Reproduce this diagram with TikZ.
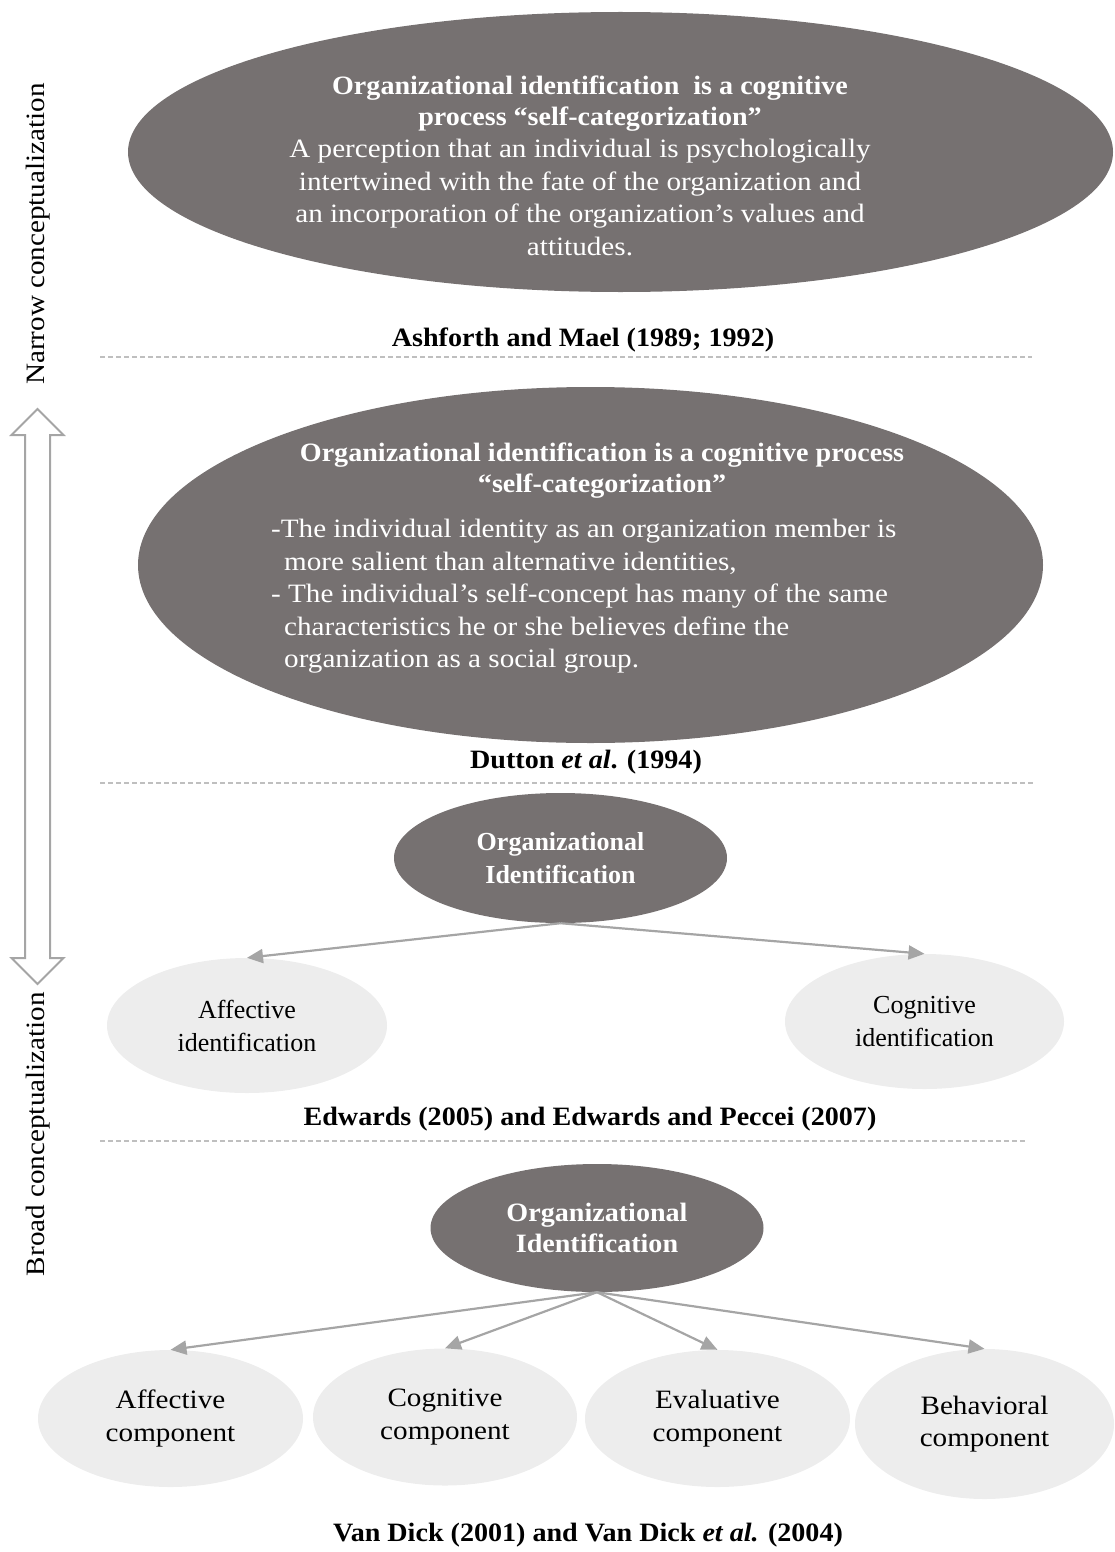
\documentclass[tikz,border=0pt]{standalone}
\usepackage{fontspec}
\setmainfont{Liberation Serif}
\newfontfamily\palfont{Liberation Serif}[FakeStretch=1.1]
\newfontfamily\palbfont{Liberation Serif}[FakeStretch=1.06]
\usetikzlibrary{shapes.geometric,arrows.meta}
\definecolor{darkfill}{HTML}{767171}
\definecolor{lightfill}{HTML}{EDEDED}
\definecolor{linkgray}{HTML}{A5A5A5}
\definecolor{rulegray}{HTML}{BFBFBF}

\begin{document}
\begin{tikzpicture}[x=1pt,y=-1pt,
  darkell/.style={ellipse, fill=darkfill, inner sep=0pt, text=white, align=center},
  lightell/.style={ellipse, fill=lightfill, inner sep=0pt, text=black, align=center},
  palreg/.style={font=\palfont\fontsize{26.5}{32.5}\selectfont},
  palbold/.style={font=\palbfont\bfseries\fontsize{26.5}{31}\selectfont},
  tmsreg/.style={font=\fontsize{26}{33}\selectfont},
  tmsbold/.style={font=\bfseries\fontsize{26}{33}\selectfont},
  link/.style={draw=linkgray, line width=2.2pt, -{Triangle[length=16pt,width=14pt]}},
  sepline/.style={draw=rulegray, line width=1.4pt, dash pattern=on 5pt off 3pt},
  source/.style={palbold, anchor=base, inner sep=0pt},
  bodytext/.style={palreg, text=white, inner sep=0pt},
  headtext/.style={palbold, text=white, inner sep=0pt, align=center, anchor=north},
]
\useasboundingbox (0,0) rectangle (1114,1552);

% ---- left scale: narrow <-> broad ----
\draw[linkgray, line width=2pt, fill=white, line join=miter]
  (37.5,409) -- (63.5,435) -- (50,435) -- (50,958) -- (63.5,958) -- (37.5,984)
  -- (11.5,958) -- (25,958) -- (25,435) -- (11.5,435) -- cycle;
\node[palreg, rotate=90] (narrow) at (38,234) {Narrow conceptualization};
\node[palreg, rotate=90] (broad) at (38,1134) {Broad conceptualization};

% ---- Ashforth and Mael ----
\node[darkell, minimum width=985, minimum height=280] (e1) at (620.5,152) {};
\node[headtext] (e1head) at (590,76)
  {Organizational identification\ \ is a cognitive\\process “self-categorization”};
\node[bodytext, align=center, anchor=north] (e1body) at (580,139)
  {A perception that an individual is psychologically\\
   intertwined with the fate of the organization and\\
   an incorporation of the organization’s values and\\
   attitudes.};
\node[source] (r1) at (583,346) {Ashforth and Mael (1989; 1992)};
\draw[sepline] (100,357) -- (1032,357);

% ---- Dutton et al. ----
\node[darkell, minimum width=905, minimum height=356] (e2) at (590.5,565) {};
\node[headtext] (e2head) at (602,443)
  {Organizational identification is a cognitive process\\“self-categorization”};
\node[bodytext, align=left, anchor=north west] (e2body) at (271,519)
  {-The individual identity as an organization member is\\
   \hspace*{13pt}more salient than alternative identities,\\
   - The individual’s self-concept has many of the same\\
   \hspace*{13pt}characteristics he or she believes define the\\
   \hspace*{13pt}organization as a social group.};
\node[source] (r2) at (586,768) {Dutton \textit{et al}. (1994)};
\draw[sepline] (100,783) -- (1035,783);

% ---- Edwards; Edwards and Peccei ----
\node[darkell, tmsbold, minimum width=333, minimum height=130] (e3) at (560.5,858)
  {Organizational\\Identification};
\node[lightell, tmsreg, minimum width=280, minimum height=135] (ai) at (247,1025.5)
  {Affective\\identification};
\node[lightell, tmsreg, minimum width=279, minimum height=135] (ci) at (924.5,1021.5)
  {Cognitive\\identification};
\draw[link] (e3.south) -- (ai.north);
\draw[link] (e3.south) -- (ci.north);
\node[source] (r3) at (590,1125) {Edwards (2005) and Edwards and Peccei (2007)};
\draw[sepline] (100,1141) -- (1027,1141);

% ---- Van Dick; Van Dick et al. ----
\node[darkell, palbold, minimum width=333, minimum height=128] (e4) at (597,1228)
  {Organizational\\Identification};
\node[lightell, palreg, minimum width=265, minimum height=137] (ac) at (170.5,1418.5)
  {Affective\\component};
\node[lightell, palreg, minimum width=264, minimum height=137] (cc) at (445,1417)
  {Cognitive\\component};
\node[lightell, palreg, minimum width=265, minimum height=137] (ec) at (717.5,1418.5)
  {Evaluative\\component};
\node[lightell, palreg, minimum width=259, minimum height=150] (bc) at (984.5,1424)
  {Behavioral\\component};
\draw[link] (e4.south) -- (ac.north);
\draw[link] (e4.south) -- (cc.north);
\draw[link] (e4.south) -- (ec.north);
\draw[link] (e4.south) -- (bc.north);
\node[source] (r4) at (588,1541) {Van Dick (2001) and Van Dick \textit{et al.} (2004)};
\end{tikzpicture}
\end{document}
